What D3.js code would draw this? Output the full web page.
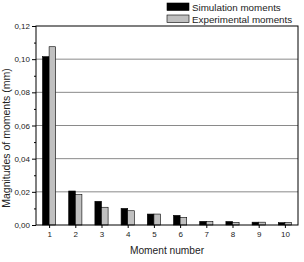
<!DOCTYPE html>
<html><head><meta charset="utf-8">
<script src="https://cdn.jsdelivr.net/npm/d3@7"></script>
<style>body{margin:0;background:#fff}svg{display:block}text{font-family:"Liberation Sans",Arial,sans-serif;fill:#222}</style>
</head><body>
<script>
const categories = [1,2,3,4,5,6,7,8,9,10];
const simulation = [0.1015,0.0205,0.0143,0.0100,0.0066,0.0058,0.0022,0.0021,0.0017,0.0014];
const experimental = [0.1075,0.0183,0.0107,0.0086,0.0066,0.0046,0.0022,0.0016,0.0017,0.0016];
const yTicks = [0,0.02,0.04,0.06,0.08,0.10,0.12];
const yMinor = [0.01,0.03,0.05,0.07,0.09,0.11];
const seriesNames = ["Simulation moments","Experimental moments"];
const colors = ["#000000","#c0c0c0"];

const W=304,H=262, L=36,R=298,T=26,B=225;
const svg=d3.select("body").append("svg").attr("width",W).attr("height",H);
const x=d3.scaleLinear().domain([0.5,10.5]).range([L,R]);
const y=d3.scaleLinear().domain([0,0.12]).range([B,T]);
const bw=6.6;

// gridlines
svg.append("g").selectAll("line").data(yTicks.filter(d=>d>0&&d<0.12)).join("line")
 .attr("x1",L).attr("x2",R).attr("y1",d=>y(d)).attr("y2",d=>y(d))
 .attr("stroke","#8a8a8a").attr("stroke-width",1);

// bars
const series=[simulation,experimental];
series.forEach((vals,si)=>{
  svg.append("g").selectAll("rect").data(categories).join("rect")
   .attr("x",(d,i)=>x(d)+(si===0?-bw:0))
   .attr("y",(d,i)=>y(vals[i]))
   .attr("width",bw)
   .attr("height",(d,i)=>B-y(vals[i]))
   .attr("fill",colors[si]).attr("stroke","#000").attr("stroke-width",0.6);
});

// axes
const yAxis=d3.axisLeft(y).tickValues(yTicks).tickSize(4).tickPadding(2)
  .tickFormat(d=>d3.format(".2f")(d).replace(".",","));
const gy=svg.append("g").attr("transform",`translate(${L},0)`).call(yAxis);
gy.select(".domain").remove();
gy.selectAll("text").attr("font-size",8);
svg.append("g").attr("transform",`translate(${L},0)`)
  .call(d3.axisLeft(y).tickValues(yMinor).tickSize(2).tickFormat(""))
  .select(".domain").remove();

const xAxis=d3.axisBottom(x).tickValues(categories).tickSize(3).tickPadding(3).tickFormat(d3.format("d"));
const gx=svg.append("g").attr("transform",`translate(0,${B})`).call(xAxis);
gx.select(".domain").remove();
gx.selectAll("text").attr("font-size",8);

// frame
svg.append("rect").attr("x",L).attr("y",T).attr("width",R-L).attr("height",B-T)
 .attr("fill","none").attr("stroke","#000").attr("stroke-width",1);

// titles
svg.append("text").attr("x",167).attr("y",254).attr("text-anchor","middle").attr("font-size",10.2).text("Moment number");
svg.append("text").attr("transform",`translate(10,138) rotate(-90)`).attr("text-anchor","middle").attr("font-size",10.5).text("Magnitudes of moments (mm)");

// legend
seriesNames.forEach((n,i)=>{
  const yy=3+i*12;
  svg.append("rect").attr("x",167).attr("y",yy).attr("width",22).attr("height",7.5)
   .attr("fill",colors[i]).attr("stroke","#000").attr("stroke-width",0.6);
  svg.append("text").attr("x",192).attr("y",yy+7.5).attr("font-size",9.8).text(n);
});
</script>
</body></html>
